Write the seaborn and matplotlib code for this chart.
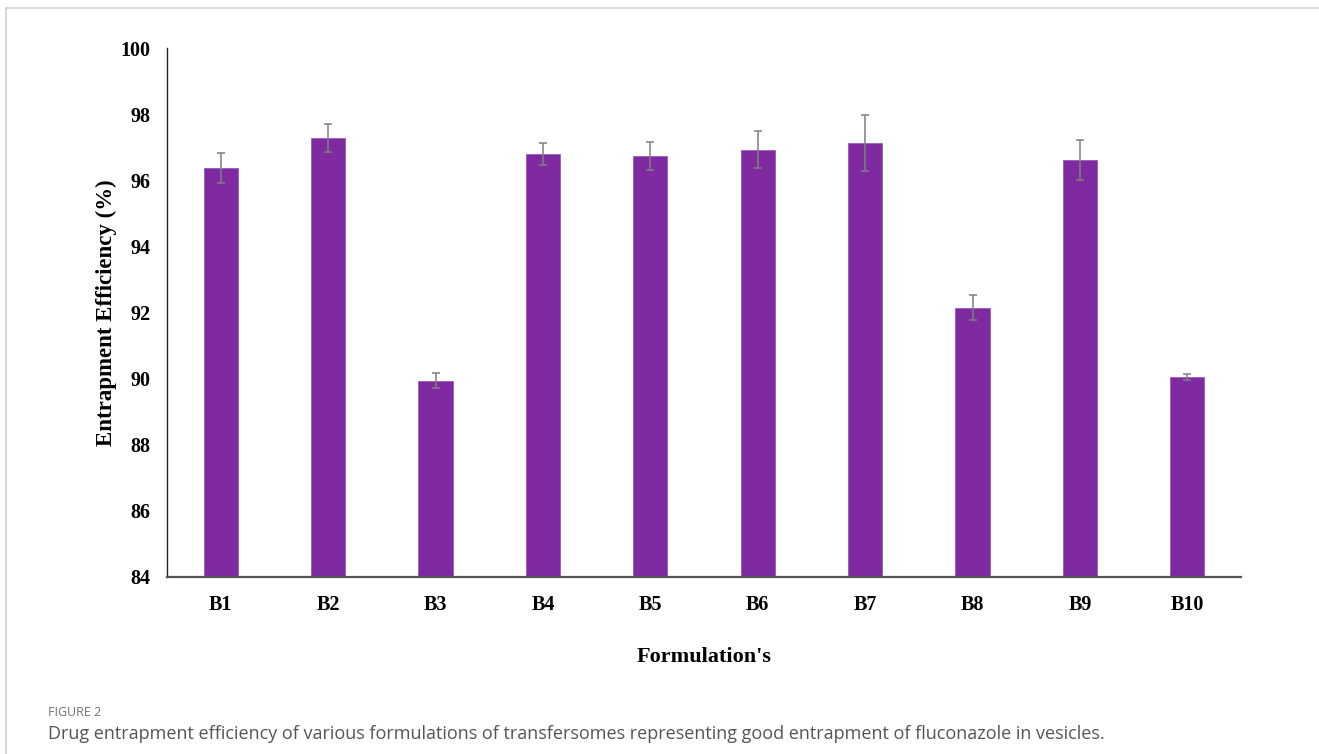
import matplotlib
matplotlib.use("Agg")
import matplotlib.pyplot as plt
from matplotlib.lines import Line2D
import seaborn as sns
import pandas as pd

categories = ["B1", "B2", "B3", "B4", "B5", "B6", "B7", "B8", "B9", "B10"]
efficiency = [96.36, 97.27, 89.94, 96.79, 96.73, 96.93, 97.13, 92.15, 96.62, 90.05]
errors = [0.45, 0.42, 0.23, 0.33, 0.42, 0.56, 0.85, 0.39, 0.60, 0.08]
y_ticks = [84, 86, 88, 90, 92, 94, 96, 98, 100]

bar_color = "#7F2AA0"
serif = ["Liberation Serif", "DejaVu Serif"]

sns.set_theme(style="white")
plt.rcParams["font.family"] = serif

df = pd.DataFrame({"Formulation": categories, "EE": efficiency})

fig = plt.figure(figsize=(13.19, 7.54), dpi=100)
ax = fig.add_axes([167 / 1319, 1 - 577 / 754, (1241 - 167) / 1319, (577 - 48) / 754])

sns.barplot(data=df, x="Formulation", y="EE", order=categories, color=bar_color,
            saturation=1, width=0.32, errorbar=None, ax=ax,
            edgecolor="#9a5bb8", linewidth=0.6)
ax.errorbar(x=list(range(len(categories))), y=efficiency, yerr=errors, fmt="none",
            ecolor="#7f7f7f", elinewidth=1.1, capsize=3, capthick=1.1)

ax.set_ylim(84, 100)
ax.set_xlim(-0.5, len(categories) - 0.5)
ax.set_yticks(y_ticks)
ax.set_yticklabels([str(v) for v in y_ticks])
ax.tick_params(axis="both", length=0, labelsize=14.5, colors="black")
ax.tick_params(axis="y", pad=12)
ax.tick_params(axis="x", pad=13)
for lab in ax.get_xticklabels() + ax.get_yticklabels():
    lab.set_fontweight("bold")
    lab.set_family(serif)

for s in ["top", "right"]:
    ax.spines[s].set_visible(False)
ax.spines["left"].set_color("#222222")
ax.spines["left"].set_linewidth(1.0)
ax.spines["bottom"].set_color("#555555")
ax.spines["bottom"].set_linewidth(1.6)
ax.grid(False)

ax.set_xlabel("Formulation's", fontsize=16, fontweight="bold", family=serif, color="black")
ax.set_ylabel("Entrapment Efficiency (%)", fontsize=16.5, fontweight="bold", family=serif, color="black")
ax.xaxis.set_label_coords(0.5, -0.132)
ax.yaxis.set_label_coords(-0.047, 0.5)

fig.text(48 / 1319, 1 - 713 / 754, "FIGURE 2", fontsize=9, color="#707070",
         family=["Open Sans", "DejaVu Sans"], ha="left", va="center")
fig.text(48 / 1319, 1 - 734 / 754,
         "Drug entrapment efficiency of various formulations of transfersomes representing good entrapment of fluconazole in vesicles.",
         fontsize=13, color="#555555", family=["Open Sans", "DejaVu Sans"], ha="left", va="center")

fig.add_artist(Line2D([6 / 1319, 1.0], [1 - 7.5 / 754, 1 - 7.5 / 754], color="#d0d0d0", lw=1.2))
fig.add_artist(Line2D([6 / 1319, 6 / 1319], [0.0, 1 - 7.5 / 754], color="#d0d0d0", lw=1.2))

fig.savefig("out.png", dpi=100, facecolor="white")
